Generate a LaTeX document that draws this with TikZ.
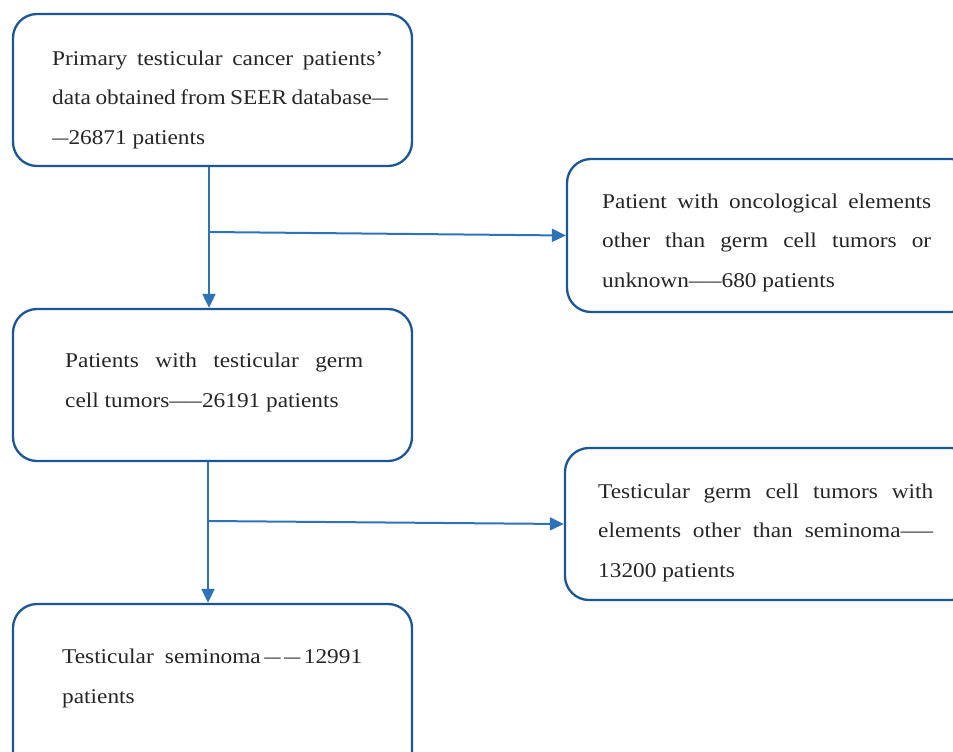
\documentclass[tikz,border=0pt]{standalone}
\usepackage{fontspec}
\setmainfont[FakeStretch=1.11]{Liberation Serif}
\usetikzlibrary{arrows.meta}
\definecolor{boxblue}{HTML}{1B5797}
\definecolor{arrblue}{HTML}{2E73BA}
\tikzset{
  box/.style={draw=boxblue, line width=2.3pt, rounded corners=24pt, fill=white, inner sep=0pt},
  txt/.style={anchor=base west, inner sep=0pt, align=left, text=black!85, font=\fontsize{21}{39.3}\selectfont},
  arr/.style={draw=arrblue, line width=2pt, -{Triangle[length=14pt,width=13pt]}},
}
\newcommand{\sd}{\scalebox{0.7}[1]{—}}
\newcommand{\dd}{\scalebox{0.7}[1]{——}}
\begin{document}
\begin{tikzpicture}[x=1pt,y=-1pt]
\useasboundingbox (0,0) rectangle (953,752);
% boxes
\node[box, minimum width=399pt, minimum height=152pt] (b1) at (212.5,90) {};
\node[box, minimum width=408pt, minimum height=153pt] (b2) at (771,235.5) {};
\node[box, minimum width=399pt, minimum height=152pt] (b3) at (212.5,385) {};
\node[box, minimum width=410pt, minimum height=152pt] (b4) at (770,524) {};
\node[box, minimum width=399pt, minimum height=172pt] (b5) at (212.5,690) {};
% texts (anchor = baseline of last line)
\node[txt] (t1) at (52,144) {\makebox[331pt][s]{Primary testicular cancer patients’}\\
  \makebox[336pt][s]{data obtained from SEER database\sd}\\
  \sd26871 patients};
\node[txt] (t2) at (602,287) {\makebox[329pt][s]{Patient with oncological elements}\\
  \makebox[329pt][s]{other than germ cell tumors or}\\
  unknown\dd680 patients};
\node[txt] (t3) at (65,407) {\makebox[298pt][s]{Patients with testicular germ}\\
  cell tumors\dd26191 patients};
\node[txt] (t4) at (598,577) {\makebox[335pt][s]{Testicular germ cell tumors with}\\
  \makebox[335pt][s]{elements other than seminoma\dd}\\
  13200 patients};
\node[txt] (t5) at (62,703) {\makebox[300pt][s]{Testicular seminoma\,\sd\,\sd\,12991}\\
  patients};
% connectors
\coordinate (j1) at (209,232);
\coordinate (j2) at (208,521);
\draw[arr] ([xshift=-3.5pt]b1.south) -- ([xshift=-3.5pt]b3.north);
\draw[arr] (j1) -- (b2.west);
\draw[arr] ([xshift=-4.5pt]b3.south) -- ([xshift=-4.5pt]b5.north);
\draw[arr] (j2) -- (b4.west);
\end{tikzpicture}
\end{document}
